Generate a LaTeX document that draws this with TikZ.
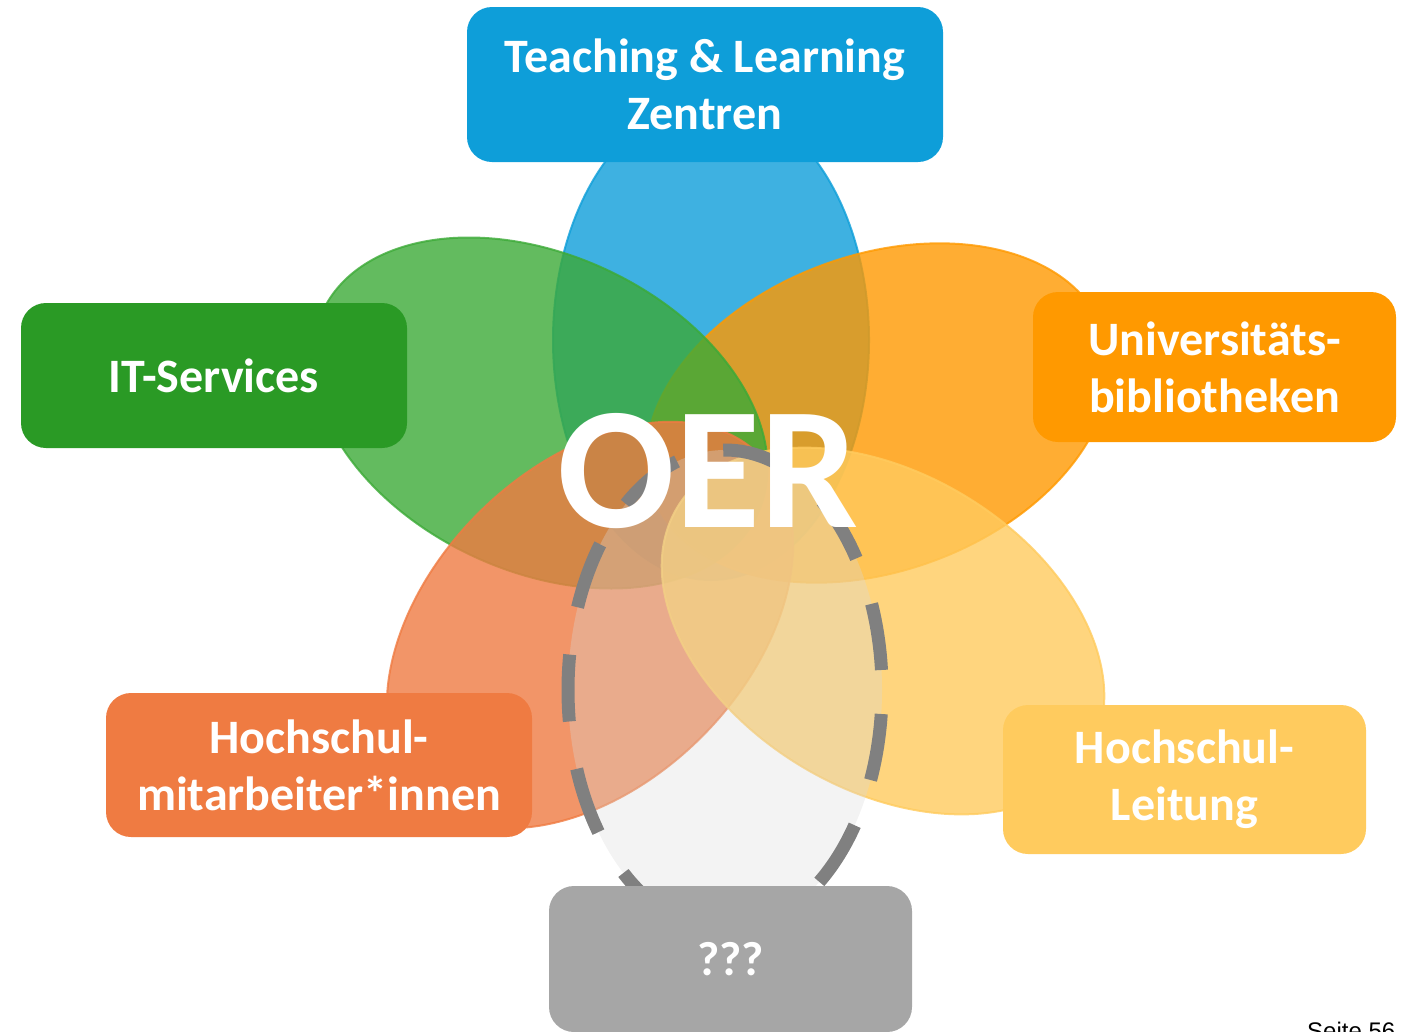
\documentclass[tikz,border=0pt]{standalone}
\usepackage{fontspec}
\setmainfont{Carlito}
\newfontfamily\pagefont{Liberation Sans}

\definecolor{tlzblue}{RGB}{14,158,217}
\definecolor{itgreen}{RGB}{42,154,37}
\definecolor{itpetal}{RGB}{60,170,55}
\definecolor{uborange}{RGB}{255,153,0}
\definecolor{hsred}{RGB}{239,123,66}
\definecolor{hlyellow}{RGB}{255,203,94}
\definecolor{qgray}{RGB}{166,166,166}
\definecolor{dashgray}{RGB}{128,128,128}
\definecolor{fogray}{RGB}{217,217,217}

\begin{document}
\begin{tikzpicture}[x=1pt, y=-1pt, box/.style = {rectangle, rounded corners=25pt, inner sep=0pt, align=center, text=white, font=\bfseries\fontsize{48}{57}\selectfont}, petal/.style = {fill=#1, draw=#1, line width=2pt, opacity=0.8}]
	\useasboundingbox (0,0) rectangle (1404,1031);
	% petals, back to front
	\path[petal=tlzblue] (711,340) ellipse [x radius=158, y radius=240];
	\path[petal=uborange, rotate around={20:(878,413)}] (878,413) ellipse [x radius=240, y radius=158];
	\path[petal=itpetal, rotate around={-25:(540,413)}] (540,413) ellipse [x radius=240, y radius=158];
	\path[petal=hsred, rotate around={45:(590,625)}] (590,625) ellipse [x radius=240, y radius=158];
	\path[petal=hlyellow, rotate around={-31:(883,631)}] (883,631) ellipse [x radius=240, y radius=158];
	% the open one
	\path[fill=fogray, fill opacity=0.32, draw=dashgray, line width=13pt, dash pattern=on 67pt off 48pt, dash phase=91pt] (725,690) ellipse [x radius=157, y radius=240];

	\node[box, fill=tlzblue, minimum width=476pt, minimum height=155pt] (tlz) at (705,84.5) {Teaching \& Learning\\Zentren};
	\node[box, fill=itgreen, minimum width=386pt, minimum height=145pt] (its) at (214,375.5) {IT-Services};
	\node[box, fill=uborange, minimum width=363pt, minimum height=150pt] (ub) at (1214.5,367) {Universitäts-\\bibliotheken};
	\node[box, fill=hsred, minimum width=426pt, minimum height=144pt] (hsma) at (319,765) {Hochschul-\\mitarbeiter*innen};
	\node[box, fill=hlyellow, minimum width=363pt, minimum height=149pt] (hsl) at (1184.5,779.5) {Hochschul-\\Leitung};
	\node[box, fill=qgray, minimum width=363pt, minimum height=146pt] (qqq) at (730.5,959) {???};

	\node[font=\bfseries\fontsize{174}{174}\selectfont, text=white, inner sep=0pt, anchor=base] (oer) at (708,527) {OER};
	\node[font=\pagefont\fontsize{24}{24}\selectfont, inner sep=0pt, anchor=base west] (page) at (1307,1039) {Seite 56};
\end{tikzpicture}
\end{document}
